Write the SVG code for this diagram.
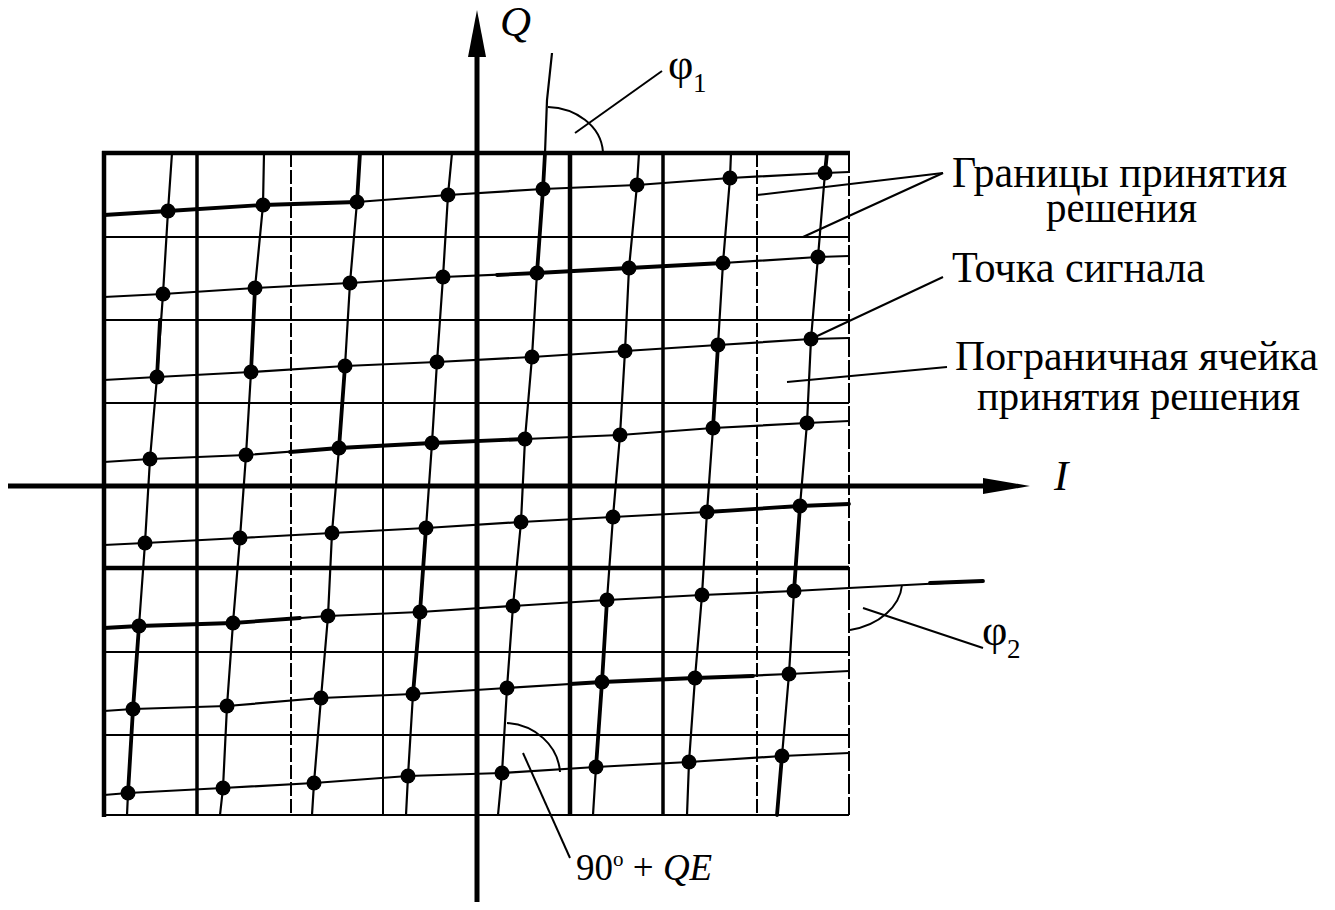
<svg xmlns="http://www.w3.org/2000/svg" width="1335" height="910" viewBox="0 0 1335 910">
<style>
  .bg{fill:#fff}
  .thin{stroke:#000;stroke-width:2;fill:none}
  .thick{stroke:#000;stroke-width:4.5;fill:none}
  .dash{stroke:#000;stroke-width:2;fill:none;stroke-dasharray:14 3}
  .dashk{stroke:#000;stroke-width:3.5;fill:none}
  .ln{stroke:#000;stroke-width:2.2;fill:none;stroke-linejoin:round}
  .lk{stroke:#000;stroke-width:3.8;fill:none;stroke-linejoin:round;stroke-linecap:round}
  .ld{stroke:#000;stroke-width:2;fill:none}
  .pt{fill:#000}
  .t{font-family:"Liberation Serif","Times New Roman",serif;fill:#000}
  .it{font-style:italic}
</style>
<rect class="bg" x="0" y="0" width="1335" height="910"/>

<g id="grid">
  <line class="thick" x1="102" y1="153" x2="850" y2="153"/>
  <line class="thin" x1="104" y1="237" x2="849" y2="237"/>
  <line class="thin" x1="104" y1="320" x2="849" y2="320"/>
  <line class="thin" x1="104" y1="403" x2="849" y2="403"/>
  <line class="thick" x1="104" y1="568" x2="849" y2="568"/>
  <line class="thin" x1="104" y1="652" x2="849" y2="652"/>
  <line class="thin" x1="104" y1="735" x2="849" y2="735"/>
  <line class="thin" x1="104" y1="815" x2="849" y2="815"/>
  <line class="thick" x1="104" y1="151" x2="104" y2="817"/>
  <line class="dashk" x1="197" y1="153" x2="197" y2="815"/>
  <line class="dash" x1="291" y1="153" x2="291" y2="815"/>
  <line class="thin" x1="383" y1="153" x2="383" y2="815"/>
  <line class="thick" x1="570" y1="153" x2="570" y2="815"/>
  <line class="dashk" x1="663" y1="153" x2="663" y2="815"/>
  <line class="dash" x1="757" y1="153" x2="757" y2="815"/>
  <line class="dash" x1="849" y1="153" x2="849" y2="815" style="stroke-dasharray:20 3"/>
</g>

<g id="axis-I">
  <line x1="8" y1="486" x2="986" y2="486" stroke="#000" stroke-width="5"/>
  <polygon points="983,478 1030,486 983,494" fill="#000"/>
</g>
<g id="axis-Q">
  <line x1="477" y1="902" x2="477" y2="50" stroke="#000" stroke-width="5"/>
  <polygon points="468,57 477,10 486,57" fill="#000"/>
</g>

<g id="connectors">
  <polyline class="ln" points="104,215 168,211 263,205 357,202 448,195 543,189 637,185 730,178 825,173 849,172"/>
  <polyline class="ln" points="104,297 163,294 255,288 350,283 443,277 537,273 629,268 723,263 818,257 849,256"/>
  <polyline class="ln" points="104,380 157,377 251,372 345,366 437,362 532,357 625,351 718,345 811,339 849,338"/>
  <polyline class="ln" points="104,462 150,459 246,455 339,448 432,443 525,439 620,435 713,428 807,423 849,421"/>
  <polyline class="ln" points="104,545 145,543 240,538 332,533 426,528 521,522 613,517 707,512 800,506 849,504"/>
  <polyline class="ln" points="104,628 139,626 233,623 328,616 420,612 513,606 607,600 702,595 794,591 849,588 983,581"/>
  <polyline class="ln" points="104,711 133,709 227,706 321,698 413,694 507,688 602,682 695,678 789,674 849,671"/>
  <polyline class="ln" points="104,795 128,793 223,788 314,783 408,776 502,773 596,767 689,762 782,756 849,753"/>
  <polyline class="ln" points="172,153 168,211 163,294 157,377 150,459 145,543 139,626 133,709 128,793 127,815"/>
  <polyline class="ln" points="264,153 263,205 255,288 251,372 246,455 240,538 233,623 227,706 223,788 220,815"/>
  <polyline class="ln" points="360,153 357,202 350,283 345,366 339,448 332,533 328,616 321,698 314,783 312,815"/>
  <polyline class="ln" points="452,153 448,195 443,277 437,362 432,443 426,528 420,612 413,694 408,776 406,815"/>
  <polyline class="ln" points="552,53 547,100 545,153 543,189 537,273 532,357 525,439 521,522 513,606 507,688 502,773 498,815"/>
  <polyline class="ln" points="639,153 637,185 629,268 625,351 620,435 613,517 607,600 602,682 596,767 593,815"/>
  <polyline class="ln" points="731,153 730,178 723,263 718,345 713,428 707,512 702,595 695,678 689,762 687,815"/>
  <polyline class="ln" points="827,153 825,173 818,257 811,339 807,423 800,506 794,591 789,674 782,756 777,815"/>
  <polyline class="lk" points="104,215 168,211 263,205 357,202"/>
  <polyline class="lk" points="497,275 537,273 629,268 723,263"/>
  <polyline class="lk" points="290,452 339,448 432,443 525,439"/>
  <polyline class="lk" points="707,512 800,506 849,504"/>
  <polyline class="lk" points="104,628 139,626 233,623 300,618"/>
  <polyline class="lk" points="570,684 602,682 695,678 753,676"/>
  <polyline class="lk" points="930,583 983,581"/>
  <polyline class="lk" points="160,320 157,377"/>
  <polyline class="lk" points="139,626 133,709 128,793"/>
  <polyline class="lk" points="255,288 251,372"/>
  <polyline class="lk" points="360,153 357,202"/>
  <polyline class="lk" points="345,366 339,448"/>
  <polyline class="lk" points="426,528 420,612 413,694"/>
  <polyline class="lk" points="545,153 543,189 537,273"/>
  <polyline class="lk" points="607,600 602,682 596,767"/>
  <polyline class="lk" points="718,345 713,428"/>
  <polyline class="lk" points="827,153 825,173"/>
  <polyline class="lk" points="800,506 794,591"/>
  <polyline class="lk" points="782,756 777,815"/>
  <path class="ld" d="M548,107 C575,108 601,125 603,152"/>
  <path class="ld" d="M902,585 C900,606 880,625 850,630"/>
  <path class="ld" d="M507,723 C535,725 558,745 560,772"/>
  <line class="ld" x1="575" y1="133" x2="662" y2="71"/>
  <line class="ld" x1="863" y1="608" x2="983" y2="648"/>
  <line class="ld" x1="523" y1="753" x2="570" y2="858"/>
  <line class="ld" x1="757" y1="195" x2="943" y2="173"/>
  <line class="ld" x1="803" y1="237" x2="943" y2="173"/>
  <line class="ld" x1="813" y1="338" x2="943" y2="277"/>
  <line class="ld" x1="787" y1="382" x2="947" y2="367"/>
</g>

<g id="points">
  <circle class="pt" cx="168" cy="211" r="7.5"/><circle class="pt" cx="263" cy="205" r="7.5"/><circle class="pt" cx="357" cy="202" r="7.5"/><circle class="pt" cx="448" cy="195" r="7.5"/><circle class="pt" cx="543" cy="189" r="7.5"/><circle class="pt" cx="637" cy="185" r="7.5"/><circle class="pt" cx="730" cy="178" r="7.5"/><circle class="pt" cx="825" cy="173" r="7.5"/>
  <circle class="pt" cx="163" cy="294" r="7.5"/><circle class="pt" cx="255" cy="288" r="7.5"/><circle class="pt" cx="350" cy="283" r="7.5"/><circle class="pt" cx="443" cy="277" r="7.5"/><circle class="pt" cx="537" cy="273" r="7.5"/><circle class="pt" cx="629" cy="268" r="7.5"/><circle class="pt" cx="723" cy="263" r="7.5"/><circle class="pt" cx="818" cy="257" r="7.5"/>
  <circle class="pt" cx="157" cy="377" r="7.5"/><circle class="pt" cx="251" cy="372" r="7.5"/><circle class="pt" cx="345" cy="366" r="7.5"/><circle class="pt" cx="437" cy="362" r="7.5"/><circle class="pt" cx="532" cy="357" r="7.5"/><circle class="pt" cx="625" cy="351" r="7.5"/><circle class="pt" cx="718" cy="345" r="7.5"/><circle class="pt" cx="811" cy="339" r="7.5"/>
  <circle class="pt" cx="150" cy="459" r="7.5"/><circle class="pt" cx="246" cy="455" r="7.5"/><circle class="pt" cx="339" cy="448" r="7.5"/><circle class="pt" cx="432" cy="443" r="7.5"/><circle class="pt" cx="525" cy="439" r="7.5"/><circle class="pt" cx="620" cy="435" r="7.5"/><circle class="pt" cx="713" cy="428" r="7.5"/><circle class="pt" cx="807" cy="423" r="7.5"/>
  <circle class="pt" cx="145" cy="543" r="7.5"/><circle class="pt" cx="240" cy="538" r="7.5"/><circle class="pt" cx="332" cy="533" r="7.5"/><circle class="pt" cx="426" cy="528" r="7.5"/><circle class="pt" cx="521" cy="522" r="7.5"/><circle class="pt" cx="613" cy="517" r="7.5"/><circle class="pt" cx="707" cy="512" r="7.5"/><circle class="pt" cx="800" cy="506" r="7.5"/>
  <circle class="pt" cx="139" cy="626" r="7.5"/><circle class="pt" cx="233" cy="623" r="7.5"/><circle class="pt" cx="328" cy="616" r="7.5"/><circle class="pt" cx="420" cy="612" r="7.5"/><circle class="pt" cx="513" cy="606" r="7.5"/><circle class="pt" cx="607" cy="600" r="7.5"/><circle class="pt" cx="702" cy="595" r="7.5"/><circle class="pt" cx="794" cy="591" r="7.5"/>
  <circle class="pt" cx="133" cy="709" r="7.5"/><circle class="pt" cx="227" cy="706" r="7.5"/><circle class="pt" cx="321" cy="698" r="7.5"/><circle class="pt" cx="413" cy="694" r="7.5"/><circle class="pt" cx="507" cy="688" r="7.5"/><circle class="pt" cx="602" cy="682" r="7.5"/><circle class="pt" cx="695" cy="678" r="7.5"/><circle class="pt" cx="789" cy="674" r="7.5"/>
  <circle class="pt" cx="128" cy="793" r="7.5"/><circle class="pt" cx="223" cy="788" r="7.5"/><circle class="pt" cx="314" cy="783" r="7.5"/><circle class="pt" cx="408" cy="776" r="7.5"/><circle class="pt" cx="502" cy="773" r="7.5"/><circle class="pt" cx="596" cy="767" r="7.5"/><circle class="pt" cx="689" cy="762" r="7.5"/><circle class="pt" cx="782" cy="756" r="7.5"/>
</g>

<g id="label-Q"><text class="t it" x="500" y="36" font-size="43">Q</text></g>
<g id="label-I"><text class="t it" x="1054" y="490" font-size="43">I</text></g>
<g id="label-phi1"><text class="t" x="668" y="79" font-size="44">φ</text><text class="t" x="693" y="92" font-size="27">1</text></g>
<g id="label-phi2"><text class="t" x="982" y="645" font-size="44">φ</text><text class="t" x="1007" y="658" font-size="27">2</text></g>
<g id="label-qe"><text class="t" x="576" y="880" font-size="37">90<tspan dy="-14" font-size="21">o</tspan><tspan dy="14"> + </tspan><tspan class="it">QE</tspan></text></g>
<g id="label-boundaries">
  <text class="t" x="952" y="187" font-size="44" textLength="335" lengthAdjust="spacingAndGlyphs">Границы принятия</text>
  <text class="t" x="1046" y="222" font-size="44" textLength="151" lengthAdjust="spacingAndGlyphs">решения</text>
</g>
<g id="label-point"><text class="t" x="952" y="282" font-size="44" textLength="253" lengthAdjust="spacingAndGlyphs">Точка сигнала</text></g>
<g id="label-cell">
  <text class="t" x="955" y="370" font-size="43" textLength="363" lengthAdjust="spacingAndGlyphs">Пограничная ячейка</text>
  <text class="t" x="977" y="410" font-size="43" textLength="323" lengthAdjust="spacingAndGlyphs">принятия решения</text>
</g>
</svg>
